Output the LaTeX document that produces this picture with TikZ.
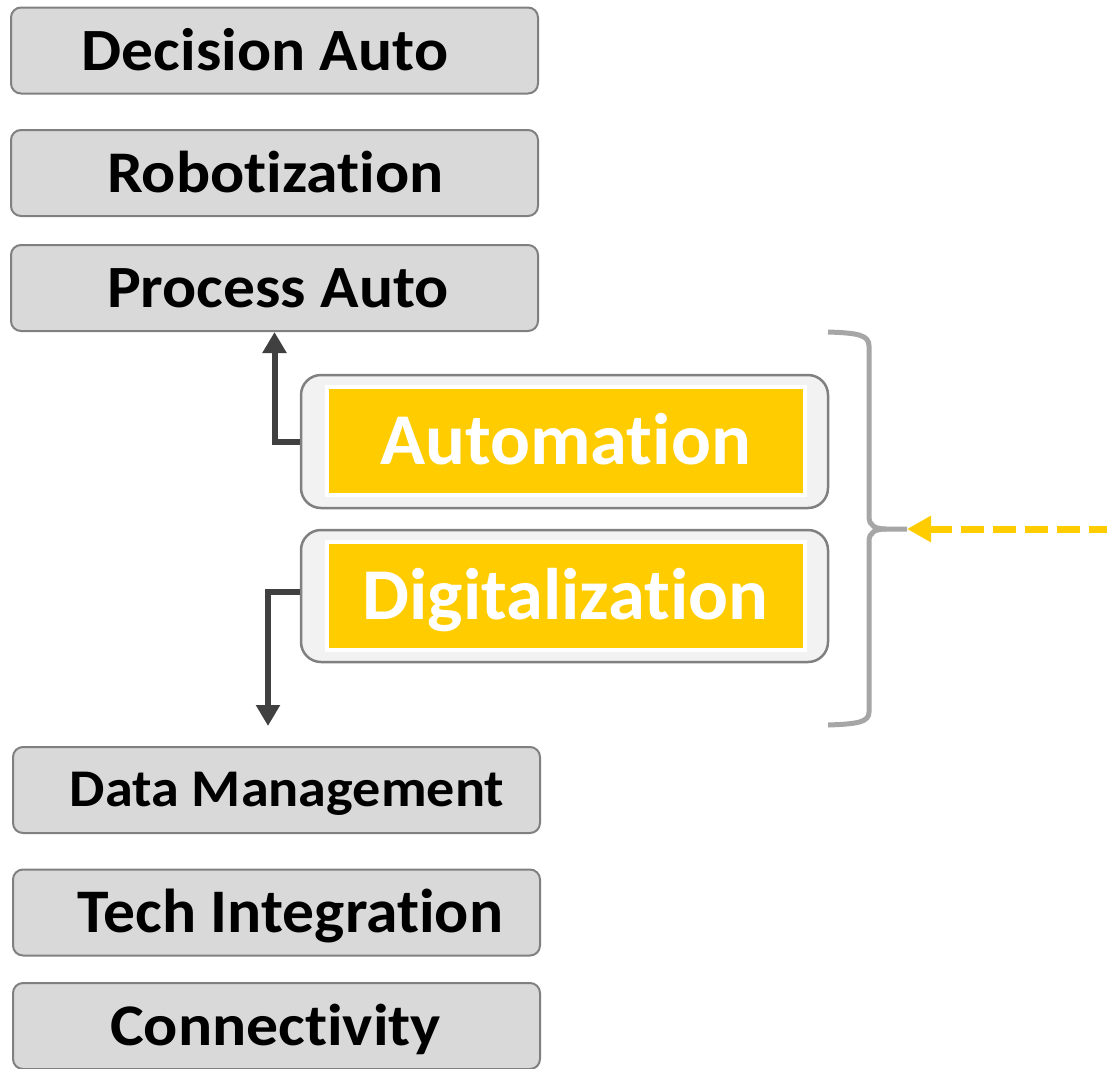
\documentclass[tikz,border=0pt]{standalone}
\usepackage{fontspec}
\setmainfont{Carlito}[Ligatures=NoCommon]
\usepackage{graphicx}
\usepackage{tikz}
\usetikzlibrary{positioning, arrows.meta}

% text in the source is set a little wide
\newcommand{\widetext}[2][1.06]{\scalebox{#1}[1]{#2}}

\begin{document}
\begin{tikzpicture}[x=1pt,y=-1pt,
    layerbox/.style={draw=boxline, fill=boxgray, line width=2pt, rounded corners=10pt,
        minimum width=527pt, minimum height=86pt, inner sep=0pt,
        text height=39pt, text depth=0pt},
    framebox/.style={draw=boxline, fill=framefill, line width=2.5pt, rounded corners=20pt,
        minimum width=527pt, minimum height=132pt, inner sep=0pt},
    accentbox/.style={draw=white, fill=accent, line width=4pt,
        minimum width=478pt, minimum height=108pt, inner sep=0pt,
        text=white, text height=47pt, text depth=0pt,
        font={\fontsize{73}{73}\selectfont\bfseries}},
    darrow/.style={draw=arrowdark, line width=6pt, -{Triangle[length=21pt,width=23pt]}},
    every node/.style={font={\fontsize{60}{60}\selectfont\bfseries}}]

    % Colors
    \definecolor{boxgray}{HTML}{D9D9D9}
    \definecolor{boxline}{HTML}{808080}
    \definecolor{framefill}{HTML}{F2F2F2}
    \definecolor{accent}{HTML}{FFCC00}
    \definecolor{arrowdark}{HTML}{404040}
    \definecolor{bracegray}{HTML}{A6A6A6}

    \useasboundingbox (0,0) rectangle (1107,1068);

    % ======================
    % Upper layers
    % ======================
    \node[layerbox] (decision) at (274.5,50.5) {\hspace*{-19pt}\widetext{Decision Auto}};
    \node[layerbox] (robot) at (274.5,173)
        {\fontsize{59}{59}\selectfont\hspace*{2pt}\widetext[1.08]{Robotization}};
    \node[layerbox] (process) at (274.5,288) {\hspace*{7pt}\widetext{Process Auto}};

    % ======================
    % Middle: the two pillars
    % ======================
    \node[framebox, minimum height=133pt] (autoframe) at (564.5,441.5) {};
    \node[accentbox] (autobox) at (565.5,441) {\widetext[1.02]{Automation}};

    \node[framebox] (digiframe) at (564.5,596) {};
    \node[accentbox] (digibox) at (565.5,596) {\widetext[1.02]{Digitalization}};

    % ======================
    % Lower layers
    % ======================
    \node[layerbox, text height=33pt] (datamgmt) at (276.5,790)
        {\fontsize{53}{53}\selectfont\hspace*{21pt}\widetext{Data Management}};
    \node[layerbox, text height=40pt] (techint) at (276.5,912.5)
        {\fontsize{62}{62}\selectfont\hspace*{28pt}\widetext[1.026]{Tech Integration}};
    \node[layerbox, text height=38pt] (connect) at (276.5,1026)
        {\fontsize{59}{59}\selectfont\hspace*{-2pt}\widetext[1.08]{Connectivity}};

    % ======================
    % Connectors
    % ======================
    \draw[darrow] (autoframe.west) -| (process.south);

    \coordinate (dmtop) at ([xshift=-8.5pt,yshift=20pt]datamgmt.north);
    \draw[darrow] ([yshift=4pt]digiframe.west) -| (dmtop);

    % brace round the pillars
    \coordinate (bracetip) at (907,529);
    \draw[bracegray, line width=5pt]
        (828,332) .. controls (858,333) and (869,335) .. (869,346)
        -- (869,517) .. controls (869,526) and (876,529) .. (886,529)
        -- (bracetip);
    \draw[bracegray, line width=5pt]
        (886,529) .. controls (876,529) and (869,532) .. (869,541)
        -- (869,712) .. controls (869,722) and (858,724) .. (828,725);

    % incoming dashed arrow
    \coordinate (inflow) at (1112,529);
    \draw[accent, line width=7pt, dash pattern=on 23pt off 9pt,
        -{Triangle[length=24pt,width=25pt]}] (inflow) -- (bracetip);

\end{tikzpicture}
\end{document}
